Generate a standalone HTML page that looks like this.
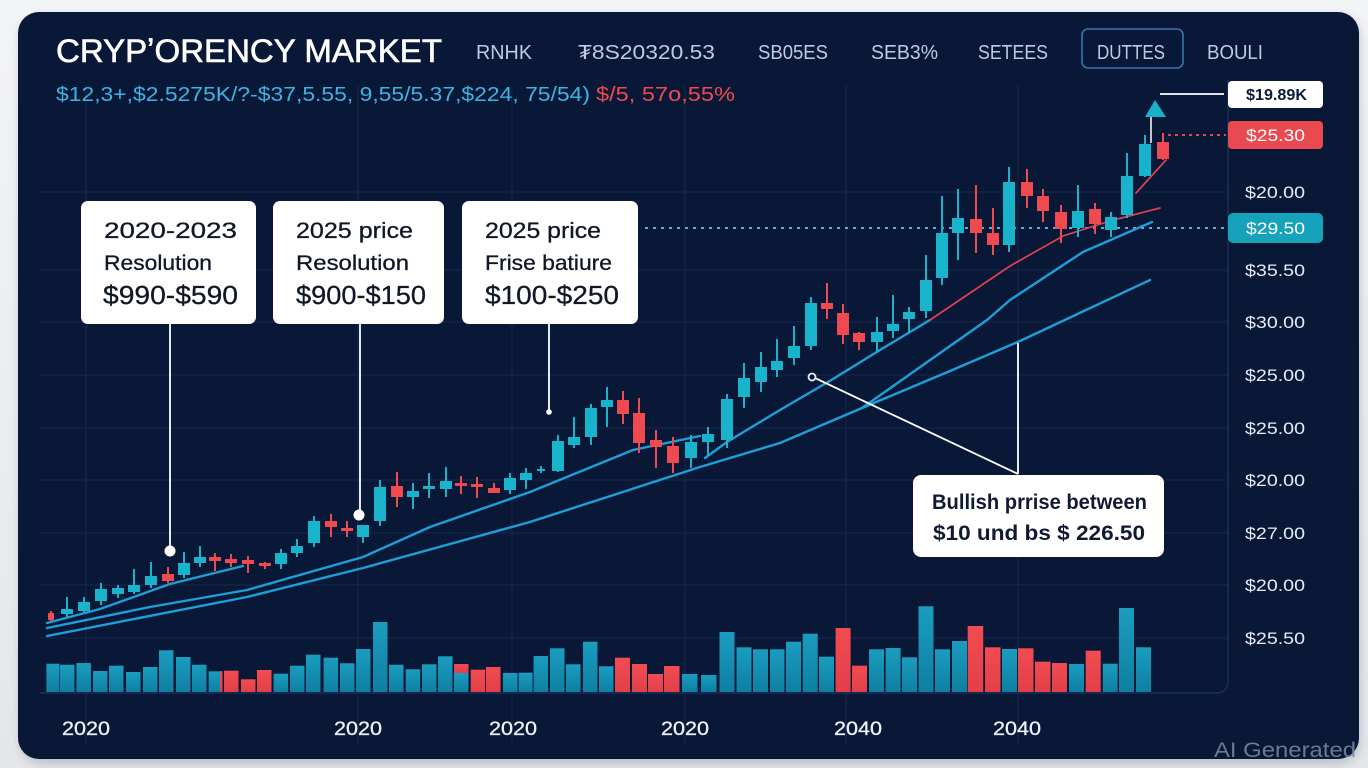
<!DOCTYPE html>
<html>
<head>
<meta charset="utf-8">
<style>
html,body{margin:0;padding:0;background:#eef0f3;}
svg{display:block;}
text{font-family:"Liberation Sans","DejaVu Sans",sans-serif;}
</style>
</head>
<body>
<svg width="1368" height="768" viewBox="0 0 1368 768" xmlns="http://www.w3.org/2000/svg">
<defs>
<filter id="sh" x="-5%" y="-5%" width="110%" height="115%"><feGaussianBlur stdDeviation="5"/></filter>
<linearGradient id="vt" x1="0" y1="0" x2="0" y2="1"><stop offset="0" stop-color="#1a9dc0"/><stop offset="1" stop-color="#0f7fa1"/></linearGradient>
<linearGradient id="vr" x1="0" y1="0" x2="0" y2="1"><stop offset="0" stop-color="#f24c52"/><stop offset="1" stop-color="#e23f47"/></linearGradient>
<linearGradient id="bg" x1="0" y1="0" x2="0" y2="1"><stop offset="0" stop-color="#f3f4f6"/><stop offset="1" stop-color="#e4e6ea"/></linearGradient>
</defs>
<rect width="1368" height="768" fill="url(#bg)"/>
<rect x="20" y="16" width="1340" height="748" rx="22" fill="#9aa0ab" opacity="0.55" filter="url(#sh)"/>
<rect x="18" y="12" width="1341" height="747" rx="21" fill="#0a1838"/>

<!-- grid -->
<g stroke="#15274c" stroke-width="1">
<line x1="40" y1="192" x2="1228" y2="192"/>
<line x1="40" y1="270" x2="1228" y2="270"/>
<line x1="40" y1="322" x2="1228" y2="322"/>
<line x1="40" y1="375" x2="1228" y2="375"/>
<line x1="40" y1="428" x2="1228" y2="428"/>
<line x1="40" y1="480" x2="1228" y2="480"/>
<line x1="40" y1="533" x2="1228" y2="533"/>
<line x1="40" y1="585" x2="1228" y2="585"/>
<line x1="40" y1="638" x2="1228" y2="638"/>
<line x1="86" y1="85" x2="86" y2="745"/>
<line x1="358" y1="85" x2="358" y2="745"/>
<line x1="512" y1="85" x2="512" y2="745"/>
<line x1="685" y1="85" x2="685" y2="745"/>
<line x1="846" y1="85" x2="846" y2="745"/>
<line x1="1018" y1="85" x2="1018" y2="745"/>
</g>
<path d="M40,693 L1216,693 Q1228,693 1228,681 L1228,80" fill="none" stroke="#1b2f58" stroke-width="1.5"/>

<!-- header -->
<text x="56" y="62" font-size="32" fill="#ffffff" stroke="#ffffff" stroke-width="0.6" textLength="386" lengthAdjust="spacingAndGlyphs">CRYPʼORENCY MARKET</text>
<g font-size="20" fill="#b9cbe5">
<text x="476" y="59" textLength="56" lengthAdjust="spacingAndGlyphs">RNHK</text>
<text x="578" y="59" textLength="137" lengthAdjust="spacingAndGlyphs">₮8S20320.53</text>
<text x="758" y="59" textLength="70" lengthAdjust="spacingAndGlyphs">SB05ES</text>
<text x="871" y="59" textLength="67" lengthAdjust="spacingAndGlyphs">SEB3%</text>
<text x="978" y="59" textLength="70" lengthAdjust="spacingAndGlyphs">SETEES</text>
<text x="1097" y="59" textLength="68" lengthAdjust="spacingAndGlyphs">DUTTES</text>
<text x="1207" y="59" textLength="56" lengthAdjust="spacingAndGlyphs">BOULI</text>
</g>
<rect x="1082" y="29" width="101" height="39" rx="6" fill="none" stroke="#3a74aa" stroke-width="1.6"/>
<text x="56" y="101" font-size="20" fill="#3db4e4" textLength="534" lengthAdjust="spacingAndGlyphs">$12,3+,$2.5275K/?-$37,5.55, 9,55/5.37,$224, 75/54)</text>
<text x="596" y="101" font-size="20" fill="#ef4a50" textLength="139" lengthAdjust="spacingAndGlyphs">$/5, 57o,55%</text>

<!-- dotted lines -->
<line x1="645" y1="228" x2="1226" y2="228" stroke="#5aaedc" stroke-width="2" stroke-dasharray="3 5"/>
<line x1="1168" y1="135" x2="1226" y2="135" stroke="#e84552" stroke-width="2" stroke-dasharray="3 4"/>

<!-- volume -->
<g fill="url(#vt)">
<rect x="46.4" y="663.7" width="13" height="28.3"/>
<rect x="60" y="664.7" width="14.5" height="27.3"/>
<rect x="76.4" y="663" width="14.5" height="29"/>
<rect x="93" y="671" width="14.5" height="21"/>
<rect x="109" y="665.7" width="14.5" height="26.3"/>
<rect x="126" y="672" width="14.5" height="20"/>
<rect x="143" y="667" width="14.5" height="25"/>
<rect x="159" y="650.3" width="14.5" height="41.7"/>
<rect x="176" y="657" width="14.5" height="35"/>
<rect x="192" y="664.7" width="14.5" height="27.3"/>
<rect x="208.6" y="671.3" width="13.5" height="20.7"/>
<rect x="273.6" y="673.7" width="14.5" height="18.3"/>
<rect x="290" y="665.7" width="14.5" height="26.3"/>
<rect x="306" y="654.7" width="14.5" height="37.3"/>
<rect x="323.6" y="657.7" width="14.5" height="34.3"/>
<rect x="340" y="663.3" width="14.5" height="28.7"/>
<rect x="356" y="649" width="14.5" height="43"/>
<rect x="373" y="622" width="14.5" height="70"/>
<rect x="389" y="664.7" width="14.5" height="27.3"/>
<rect x="405.7" y="669.3" width="14.5" height="22.7"/>
<rect x="422" y="664.3" width="14.5" height="27.7"/>
<rect x="438" y="656.3" width="14.5" height="35.7"/>
<rect x="454" y="673" width="14.5" height="19"/>
<rect x="503" y="673" width="14.5" height="19"/>
<rect x="518.6" y="672.7" width="14" height="19.3"/>
<rect x="533.6" y="656" width="14.5" height="36"/>
<rect x="550" y="648.3" width="14.5" height="43.7"/>
<rect x="566" y="664.3" width="14.5" height="27.7"/>
<rect x="583" y="641.7" width="14.5" height="50.3"/>
<rect x="599" y="666.3" width="14.5" height="25.7"/>
<rect x="682" y="674" width="15.5" height="18"/>
<rect x="701" y="675" width="15.5" height="17"/>
<rect x="719.5" y="632" width="15" height="60"/>
<rect x="736.5" y="647.3" width="15" height="44.7"/>
<rect x="753" y="649.3" width="15" height="42.7"/>
<rect x="770" y="649.3" width="14.5" height="42.7"/>
<rect x="786" y="641.7" width="15" height="50.3"/>
<rect x="802.7" y="633.7" width="15" height="58.3"/>
<rect x="819" y="656.7" width="15" height="35.3"/>
<rect x="869" y="649.3" width="15" height="42.7"/>
<rect x="885.6" y="648" width="15" height="44"/>
<rect x="902" y="657.3" width="15" height="34.7"/>
<rect x="918.5" y="606.3" width="15" height="85.7"/>
<rect x="935" y="649.3" width="15" height="42.7"/>
<rect x="952" y="641" width="15" height="51"/>
<rect x="1002" y="649" width="15" height="43"/>
<rect x="1069" y="664" width="15" height="28"/>
<rect x="1102.8" y="663.7" width="14.8" height="28.3"/>
<rect x="1119" y="608" width="15" height="84"/>
<rect x="1136" y="647.3" width="15" height="44.7"/>
</g>
<g fill="url(#vr)">
<rect x="220" y="671.3" width="2.5" height="20.7"/>
<rect x="224" y="670.7" width="14.5" height="21.3"/>
<rect x="241" y="679.3" width="14.5" height="12.7"/>
<rect x="257" y="670" width="14.5" height="22"/>
<rect x="454" y="664" width="14.5" height="9"/>
<rect x="470.7" y="669.7" width="14.5" height="22.3"/>
<rect x="486" y="667" width="14.5" height="25"/>
<rect x="615" y="657.7" width="15" height="34.3"/>
<rect x="632" y="664" width="15" height="28"/>
<rect x="648" y="674" width="15" height="18"/>
<rect x="664" y="666" width="15.5" height="26"/>
<rect x="835.6" y="628" width="15" height="64"/>
<rect x="852" y="665.7" width="15" height="26.3"/>
<rect x="967.7" y="626" width="15.5" height="66"/>
<rect x="985" y="647.3" width="15.5" height="44.7"/>
<rect x="1018" y="648.3" width="15.5" height="43.7"/>
<rect x="1035" y="661.7" width="15.5" height="30.3"/>
<rect x="1052" y="663" width="15" height="29"/>
<rect x="1085.7" y="650.7" width="15" height="41.3"/>
</g>

<!-- moving averages -->
<g fill="none" stroke="#1f9fd7" stroke-width="2.4" stroke-linejoin="round" stroke-linecap="round">
<path d="M47,623 L100,609 L170,584 L243,566"/>
<path d="M47,628 L150,607 L247,590 L363,557 L430,527 L530,492 L633,450 L700,436"/>
<path d="M705,458 L727,442 L780,410 L833,379 L880,350 L930,320"/>
<path d="M47,636 L247,597 L363,568 L530,522 L700,467 L780,443 L862,408 L950,371 L1020,341 L1150,280"/>
<path d="M862,408 L933,358 L987,320 L1010,300 L1083,252 L1152,222"/>
</g>
<g fill="none" stroke="#e0404f" stroke-width="1.7" stroke-linecap="round">
<path d="M930,320 L970,293 L1010,266 L1063,236 L1110,221 L1160,208"/>
<path d="M1136,193 L1166,160"/>
</g>

<!-- candles teal -->
<g fill="#19b3cb">
<rect x="66" y="597" width="2" height="20"/><rect x="61" y="609" width="12" height="5"/>
<rect x="83" y="597" width="2" height="15"/><rect x="78" y="602" width="12" height="9"/>
<rect x="100" y="583" width="2" height="22"/><rect x="95" y="589" width="12" height="12"/>
<rect x="117" y="585" width="2" height="13"/><rect x="112" y="588" width="12" height="6"/>
<rect x="133" y="569" width="2" height="25"/><rect x="128" y="585" width="12" height="7"/>
<rect x="150" y="562" width="2" height="26"/><rect x="145" y="576" width="12" height="9"/>
<rect x="183" y="552" width="2" height="26"/><rect x="178" y="563" width="12" height="12"/>
<rect x="199" y="546" width="2" height="21"/><rect x="194" y="557" width="12" height="6"/>
<rect x="280" y="549" width="2" height="20"/><rect x="275" y="553" width="12" height="11"/>
<rect x="296" y="539" width="2" height="18"/><rect x="291" y="546" width="12" height="7"/>
<rect x="313" y="516" width="2" height="31"/><rect x="308" y="521" width="12" height="22"/>
<rect x="362" y="525" width="2" height="18"/><rect x="357" y="525" width="12" height="12"/>
<rect x="379" y="480" width="2" height="46"/><rect x="374" y="487" width="12" height="34"/>
<rect x="412" y="483" width="2" height="26"/><rect x="407" y="491" width="12" height="6"/>
<rect x="428" y="473" width="2" height="25"/><rect x="423" y="486" width="12" height="3"/>
<rect x="445" y="467" width="2" height="30"/><rect x="440" y="481" width="12" height="8"/>
<rect x="509" y="473" width="2" height="21"/><rect x="504" y="478" width="12" height="12"/>
<rect x="525" y="468" width="2" height="21"/><rect x="520" y="473" width="12" height="7"/>
<rect x="540" y="466" width="2" height="7"/><rect x="537" y="469" width="8" height="2"/>
<rect x="557" y="435" width="2" height="37"/><rect x="552" y="441" width="12" height="30"/>
<rect x="573" y="417" width="2" height="31"/><rect x="568" y="437" width="12" height="8"/>
<rect x="590" y="404" width="2" height="41"/><rect x="585" y="408" width="12" height="29"/>
<rect x="606" y="387" width="2" height="40"/><rect x="601" y="400" width="12" height="7"/>
<rect x="690" y="435" width="2" height="33"/><rect x="685" y="442" width="12" height="16"/>
<rect x="707" y="427" width="2" height="29"/><rect x="702" y="434" width="12" height="8"/>
<rect x="726" y="394" width="2" height="54"/><rect x="721" y="399" width="12" height="41"/>
<rect x="743" y="363" width="2" height="45"/><rect x="738" y="378" width="12" height="19"/>
<rect x="760" y="352" width="2" height="40"/><rect x="755" y="367" width="12" height="15"/>
<rect x="776" y="339" width="2" height="38"/><rect x="771" y="361" width="12" height="9"/>
<rect x="793" y="326" width="2" height="39"/><rect x="788" y="346" width="12" height="12"/>
<rect x="810" y="297" width="2" height="53"/><rect x="805" y="303" width="12" height="43"/>
<rect x="876" y="317" width="2" height="35"/><rect x="871" y="332" width="12" height="10"/>
<rect x="892" y="295" width="2" height="43"/><rect x="887" y="324" width="12" height="7"/>
<rect x="908" y="307" width="2" height="26"/><rect x="903" y="312" width="12" height="7"/>
<rect x="925" y="255" width="2" height="63"/><rect x="920" y="280" width="12" height="31"/>
<rect x="941" y="196" width="2" height="89"/><rect x="936" y="233" width="12" height="45"/>
<rect x="957" y="189" width="2" height="71"/><rect x="952" y="218" width="12" height="15"/>
<rect x="1008" y="167" width="2" height="85"/><rect x="1003" y="182" width="12" height="63"/>
<rect x="1077" y="185" width="2" height="52"/><rect x="1072" y="211" width="12" height="17"/>
<rect x="1110" y="212" width="2" height="25"/><rect x="1105" y="217" width="12" height="13"/>
<rect x="1126" y="153" width="2" height="65"/><rect x="1121" y="176" width="12" height="39"/>
<rect x="1144" y="135" width="2" height="42"/><rect x="1139" y="144" width="12" height="32"/>
</g>
<!-- candles red -->
<g fill="#ee4a50">
<rect x="50" y="611" width="2" height="10"/><rect x="48" y="613" width="6" height="7"/>
<rect x="167" y="567" width="2" height="16"/><rect x="162" y="574" width="12" height="7"/>
<rect x="214" y="553" width="2" height="18"/><rect x="209" y="557" width="12" height="4"/>
<rect x="230" y="554" width="2" height="13"/><rect x="225" y="559" width="12" height="4"/>
<rect x="247" y="556" width="2" height="17"/><rect x="242" y="560" width="12" height="4"/>
<rect x="264" y="562" width="2" height="7"/><rect x="259" y="563" width="12" height="3"/>
<rect x="330" y="514" width="2" height="23"/><rect x="325" y="521" width="12" height="6"/>
<rect x="346" y="521" width="2" height="16"/><rect x="341" y="528" width="12" height="3"/>
<rect x="396" y="472" width="2" height="35"/><rect x="391" y="486" width="12" height="11"/>
<rect x="460" y="476" width="2" height="18"/><rect x="455" y="483" width="12" height="3"/>
<rect x="476" y="477" width="2" height="21"/><rect x="471" y="484" width="12" height="3"/>
<rect x="493" y="483" width="2" height="10"/><rect x="488" y="488" width="12" height="5"/>
<rect x="622" y="391" width="2" height="33"/><rect x="617" y="400" width="12" height="14"/>
<rect x="638" y="398" width="2" height="55"/><rect x="633" y="413" width="12" height="30"/>
<rect x="655" y="430" width="2" height="38"/><rect x="650" y="440" width="12" height="7"/>
<rect x="672" y="437" width="2" height="36"/><rect x="667" y="446" width="12" height="17"/>
<rect x="826" y="283" width="2" height="36"/><rect x="821" y="303" width="12" height="6"/>
<rect x="842" y="304" width="2" height="40"/><rect x="837" y="313" width="12" height="22"/>
<rect x="858" y="332" width="2" height="18"/><rect x="853" y="333" width="12" height="9"/>
<rect x="975" y="185" width="2" height="68"/><rect x="970" y="219" width="12" height="14"/>
<rect x="992" y="208" width="2" height="47"/><rect x="987" y="233" width="12" height="12"/>
<rect x="1026" y="169" width="2" height="39"/><rect x="1021" y="182" width="12" height="14"/>
<rect x="1042" y="189" width="2" height="33"/><rect x="1037" y="196" width="12" height="15"/>
<rect x="1060" y="205" width="2" height="38"/><rect x="1055" y="212" width="12" height="17"/>
<rect x="1094" y="203" width="2" height="31"/><rect x="1089" y="209" width="12" height="15"/>
<rect x="1162" y="133" width="2" height="27"/><rect x="1157" y="142" width="12" height="17"/>
</g>

<!-- top marker -->
<polygon points="1155,100 1145,117 1166,117" fill="#1ab0c8"/>
<line x1="1151" y1="117" x2="1151" y2="143" stroke="#ffffff" stroke-width="1.5"/>
<line x1="1160" y1="94" x2="1224" y2="94" stroke="#ffffff" stroke-width="1.8"/>

<!-- right labels -->
<rect x="1228" y="81" width="95" height="27" rx="4" fill="#ffffff"/>
<text x="1246" y="100" font-size="16" font-weight="bold" fill="#0c1a3a" textLength="61" lengthAdjust="spacingAndGlyphs">$19.89K</text>
<rect x="1228" y="121" width="95" height="28" rx="4" fill="#e84a4f"/>
<text x="1246" y="141" font-size="17" fill="#ffffff" textLength="59" lengthAdjust="spacingAndGlyphs">$25.30</text>
<rect x="1228" y="213" width="95" height="30" rx="5" fill="#17a2bb"/>
<text x="1246" y="234" font-size="17" fill="#ffffff" textLength="59" lengthAdjust="spacingAndGlyphs">$29.50</text>
<g font-size="17" fill="#e6ebf5">
<text x="1245" y="198" textLength="60" lengthAdjust="spacingAndGlyphs">$20.00</text>
<text x="1245" y="276" textLength="60" lengthAdjust="spacingAndGlyphs">$35.50</text>
<text x="1245" y="328" textLength="60" lengthAdjust="spacingAndGlyphs">$30.00</text>
<text x="1245" y="381" textLength="60" lengthAdjust="spacingAndGlyphs">$25.00</text>
<text x="1245" y="434" textLength="60" lengthAdjust="spacingAndGlyphs">$25.00</text>
<text x="1245" y="486" textLength="60" lengthAdjust="spacingAndGlyphs">$20.00</text>
<text x="1245" y="539" textLength="60" lengthAdjust="spacingAndGlyphs">$27.00</text>
<text x="1245" y="591" textLength="60" lengthAdjust="spacingAndGlyphs">$20.00</text>
<text x="1245" y="644" textLength="60" lengthAdjust="spacingAndGlyphs">$25.50</text>
</g>

<!-- annotation leaders -->
<g stroke="#ffffff" stroke-width="1.8" fill="none">
<line x1="170" y1="324" x2="170" y2="548"/>
<line x1="360" y1="324" x2="360" y2="512"/>
<line x1="549" y1="324" x2="549" y2="410"/>
<line x1="1018" y1="343" x2="1018" y2="474"/>
<line x1="815" y1="378" x2="1018" y2="474"/>
</g>
<circle cx="170" cy="551" r="5.5" fill="#ffffff"/>
<circle cx="359" cy="515" r="5.5" fill="#ffffff"/>
<circle cx="549" cy="412" r="2.8" fill="#ffffff"/>
<circle cx="812" cy="377" r="3.5" fill="#0a1838" stroke="#e8edf5" stroke-width="1.8"/>

<!-- annotation boxes -->
<rect x="81" y="201" width="175" height="123" rx="7" fill="#ffffff"/>
<rect x="273" y="201" width="171" height="123" rx="7" fill="#ffffff"/>
<rect x="462" y="201" width="176" height="123" rx="7" fill="#ffffff"/>
<g fill="#101828" stroke="#101828" stroke-width="0.3">
<text x="104" y="238" font-size="22" textLength="133" lengthAdjust="spacingAndGlyphs">2020-2023</text>
<text x="104" y="270" font-size="21" textLength="108" lengthAdjust="spacingAndGlyphs">Resolution</text>
<text x="103" y="304" font-size="26" textLength="135" lengthAdjust="spacingAndGlyphs">$990-$590</text>
<text x="296" y="238" font-size="22" textLength="117" lengthAdjust="spacingAndGlyphs">2025 price</text>
<text x="296" y="270" font-size="21" textLength="113" lengthAdjust="spacingAndGlyphs">Resolution</text>
<text x="296" y="304" font-size="26" textLength="130" lengthAdjust="spacingAndGlyphs">$900-$150</text>
<text x="485" y="238" font-size="22" textLength="116" lengthAdjust="spacingAndGlyphs">2025 price</text>
<text x="485" y="270" font-size="21" textLength="127" lengthAdjust="spacingAndGlyphs">Frise batiure</text>
<text x="485" y="304" font-size="26" textLength="134" lengthAdjust="spacingAndGlyphs">$100-$250</text>
</g>

<rect x="913" y="475" width="251" height="82" rx="8" fill="#ffffff"/>
<g fill="#111a33" font-weight="bold" font-size="21">
<text x="932" y="509" textLength="215" lengthAdjust="spacingAndGlyphs">Bullish prrise between</text>
<text x="933" y="540" textLength="212" lengthAdjust="spacingAndGlyphs">$10 und bs $ 226.50</text>
</g>

<!-- x axis labels -->
<g font-size="19" fill="#eef2f8" stroke="#eef2f8" stroke-width="0.3">
<text x="62" y="735" textLength="48" lengthAdjust="spacingAndGlyphs">2020</text>
<text x="334" y="735" textLength="48" lengthAdjust="spacingAndGlyphs">2020</text>
<text x="489" y="735" textLength="48" lengthAdjust="spacingAndGlyphs">2020</text>
<text x="661" y="735" textLength="48" lengthAdjust="spacingAndGlyphs">2020</text>
<text x="834" y="735" textLength="48" lengthAdjust="spacingAndGlyphs">2040</text>
<text x="993" y="735" textLength="48" lengthAdjust="spacingAndGlyphs">2040</text>
</g>

<text x="1214" y="757" font-size="21" fill="#7d8aa3" opacity="0.85" textLength="142" lengthAdjust="spacingAndGlyphs">AI Generated</text>
</svg>
</body>
</html>
